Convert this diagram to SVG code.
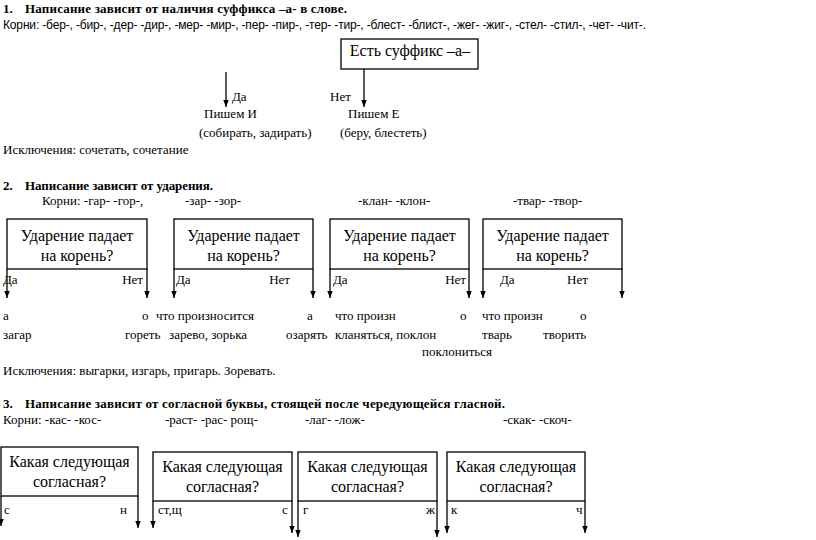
<svg xmlns="http://www.w3.org/2000/svg" width="816" height="540" viewBox="0 0 816 540">
<style>
.t{font-family:"Liberation Serif","Times New Roman",serif;font-size:13px;fill:#000}
.b{font-weight:bold}
.s{font-family:"Liberation Sans",Arial,sans-serif;font-size:12px;fill:#000}
.bx{font-family:"Liberation Serif","Times New Roman",serif;font-size:16px;fill:#000;text-anchor:middle}
.e{text-anchor:end}
.box{fill:none;stroke:#000;stroke-width:1.3}
.c{fill:none;stroke:#000;stroke-width:1.3;marker-end:url(#ah)}
</style>
<defs>
<marker id="ah" markerUnits="userSpaceOnUse" markerWidth="7" markerHeight="9" viewBox="0 0 9 7" refX="9" refY="3.5" orient="auto">
<path d="M0,0 L9,3.5 L0,7 z" fill="#000"/>
</marker>
</defs>
<rect width="816" height="540" fill="#fff"/>

<!-- Section 1 -->
<g id="sec1-text">
<text class="t b" x="3" y="13">1.</text>
<text class="t b" x="25" y="13" textLength="322" lengthAdjust="spacing">Написание зависит от наличия суффикса –а- в слове.</text>
<text class="s" x="3" y="29" textLength="643" lengthAdjust="spacing">Корни: -бер-, -бир-, -дер- -дир-, -мер-  -мир-, -пер- -пир-, -тер- -тир-, -блест- -блист-, -жег- -жиг-, -стел- -стил-, -чет-  -чит-.</text>
</g>
<g id="n-suffix">
<rect class="box" x="341" y="39" width="137" height="30"/>
<text class="t" style="font-size:16px" x="410" y="56" text-anchor="middle">Есть суффикс –а–</text>
</g>
<g id="n-yes1">
<text class="t" x="232" y="101">Да</text>
<text class="t" x="204" y="118">Пишем И</text>
<text class="t" x="199" y="137">(собирать, задирать)</text>
</g>
<g id="n-no1">
<text class="t" x="330" y="101">Нет</text>
<text class="t" x="348" y="118">Пишем Е</text>
<text class="t" x="340" y="137">(беру, блестеть)</text>
</g>
<g id="sec1-exc">
<text class="t" x="3" y="154">Исключения: сочетать, сочетание</text>
</g>

<!-- Section 2 -->
<g id="sec2-text">
<text class="t b" x="3" y="190">2.</text>
<text class="t b" x="25" y="190" textLength="188" lengthAdjust="spacing">Написание зависит от ударения.</text>
<text class="t" x="42" y="205">Корни: -гар- -гор-,</text>
<text class="t" x="185" y="205">-зар- -зор-</text>
<text class="t" x="358" y="205">-клан- -клон-</text>
<text class="t" x="513" y="205">-твар- -твор-</text>
</g>
<g id="n-stress1">
<rect class="box" x="7" y="219" width="140" height="50"/>
<text class="bx" x="77" y="241">Ударение падает</text>
<text class="bx" x="77" y="261">на корень?</text>
<text class="t" x="3" y="284">Да</text>
<text class="t e" x="143" y="284">Нет</text>
</g>
<g id="n-stress2">
<rect class="box" x="174" y="219" width="139" height="50"/>
<text class="bx" x="243.5" y="241">Ударение падает</text>
<text class="bx" x="243.5" y="261">на корень?</text>
<text class="t" x="176" y="284">Да</text>
<text class="t e" x="290" y="284">Нет</text>
</g>
<g id="n-stress3">
<rect class="box" x="330" y="219" width="139" height="50"/>
<text class="bx" x="399.5" y="241">Ударение падает</text>
<text class="bx" x="399.5" y="261">на корень?</text>
<text class="t" x="333" y="284">Да</text>
<text class="t e" x="466" y="284">Нет</text>
</g>
<g id="n-stress4">
<rect class="box" x="483" y="219" width="139" height="50"/>
<text class="bx" x="552.5" y="241">Ударение падает</text>
<text class="bx" x="552.5" y="261">на корень?</text>
<text class="t" x="500" y="284">Да</text>
<text class="t" x="567" y="284">Нет</text>
</g>
<g id="sec2-results">
<text class="t" x="3" y="320">а</text>
<text class="t" x="142" y="320">о</text>
<text class="t" x="156" y="320">что произносится</text>
<text class="t" x="307" y="320">а</text>
<text class="t" x="335" y="320">что произн</text>
<text class="t" x="460" y="320">о</text>
<text class="t" x="482" y="320">что произн</text>
<text class="t" x="580" y="320">о</text>
<text class="t" x="3" y="339">загар</text>
<text class="t" x="125" y="339">гореть</text>
<text class="t" x="169" y="339">зарево, зорька</text>
<text class="t" x="286" y="339">озарять</text>
<text class="t" x="335" y="339">кланяться, поклон</text>
<text class="t" x="482" y="339">тварь</text>
<text class="t" x="543" y="339">творить</text>
<text class="t" x="422" y="356">поклониться</text>
<text class="t" x="3" y="375">Исключения: выгарки, изгарь, пригарь. Зоревать.</text>
</g>

<!-- Section 3 -->
<g id="sec3-text">
<text class="t b" x="3" y="408">3.</text>
<text class="t b" x="25" y="408" textLength="480" lengthAdjust="spacing">Написание зависит от согласной буквы, стоящей после чередующейся гласной.</text>
<text class="t" x="3" y="424">Корни: -кас- -кос-</text>
<text class="t" x="165" y="424">-раст- -рас- рощ-</text>
<text class="t" x="305" y="424">-лаг- -лож-</text>
<text class="t" x="503" y="424">-скак- -скоч-</text>
</g>
<g id="n-cons1">
<rect class="box" x="1" y="447" width="137" height="49"/>
<text class="bx" x="69.5" y="467">Какая следующая</text>
<text class="bx" x="69.5" y="487">согласная?</text>
<text class="t" x="4" y="514">с</text>
<text class="t" x="120" y="514">н</text>
</g>
<g id="n-cons2">
<rect class="box" x="153" y="452" width="139" height="49"/>
<text class="bx" x="222.5" y="472">Какая следующая</text>
<text class="bx" x="222.5" y="492">согласная?</text>
<text class="t" x="158" y="514">ст,щ</text>
<text class="t" x="282" y="514">с</text>
</g>
<g id="n-cons3">
<rect class="box" x="298" y="452" width="139" height="49"/>
<text class="bx" x="367.5" y="472">Какая следующая</text>
<text class="bx" x="367.5" y="492">согласная?</text>
<text class="t" x="303" y="514">г</text>
<text class="t" x="426" y="514">ж</text>
</g>
<g id="n-cons4">
<rect class="box" x="447" y="452" width="138" height="49"/>
<text class="bx" x="516" y="472">Какая следующая</text>
<text class="bx" x="516" y="492">согласная?</text>
<text class="t" x="451" y="514">к</text>
<text class="t" x="576" y="514">ч</text>
</g>

<g id="connectors">
<line class="c" x1="226" y1="72" x2="226" y2="107"/>
<line class="c" x1="364" y1="69" x2="364" y2="107"/>

<line class="c" x1="7" y1="269" x2="7" y2="298"/>
<line class="c" x1="147" y1="269" x2="147" y2="298"/>
<line class="c" x1="174" y1="269" x2="174" y2="298"/>
<line class="c" x1="313" y1="269" x2="313" y2="298"/>
<line class="c" x1="330" y1="269" x2="330" y2="298"/>
<line class="c" x1="469" y1="269" x2="469" y2="298"/>
<line class="c" x1="483" y1="269" x2="483" y2="298"/>
<line class="c" x1="622" y1="269" x2="622" y2="298"/>

<line class="c" x1="1" y1="496" x2="1" y2="526"/>
<line class="c" x1="138" y1="496" x2="138" y2="528"/>
<line class="c" x1="153" y1="501" x2="153" y2="528"/>
<line class="c" x1="292" y1="501" x2="292" y2="533"/>
<line class="c" x1="298" y1="501" x2="298" y2="537"/>
<line class="c" x1="437" y1="501" x2="437" y2="537"/>
<line class="c" x1="447" y1="501" x2="447" y2="533"/>
<line class="c" x1="585" y1="501" x2="585" y2="533"/>
</g>
</svg>
